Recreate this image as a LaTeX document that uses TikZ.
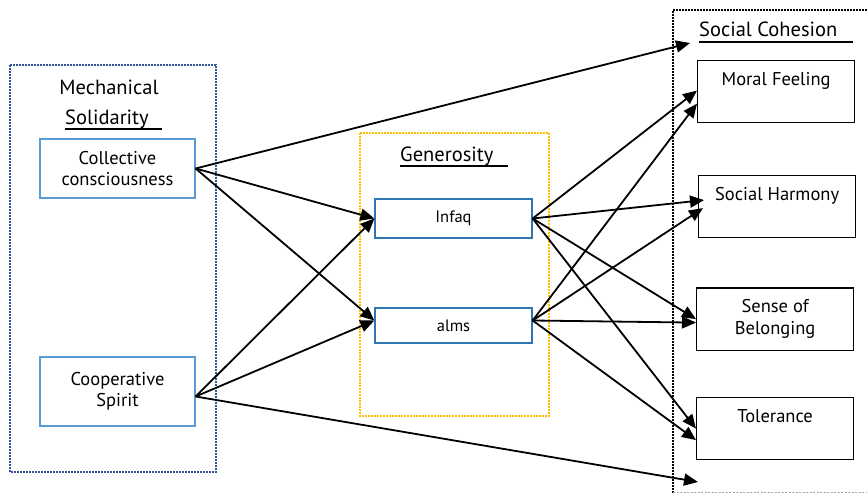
\documentclass[tikz,border=0pt]{standalone}
\usepackage{fontspec}
\setmainfont{PT Sans}
\usetikzlibrary{arrows.meta}
\definecolor{navyframe}{HTML}{2F5597}
\definecolor{goldframe}{HTML}{FFC000}
\definecolor{lightblue}{HTML}{5B9BD5}
\definecolor{midblue}{HTML}{2E75B6}
\newcommand{\headfont}{\fontsize{20.5}{24}\selectfont}
\newcommand{\bodyfont}{\fontsize{18.5}{21.5}\selectfont}
\newcommand{\smallbody}{\fontsize{16.5}{20}\selectfont}
\begin{document}
\begin{tikzpicture}[x=1pt,y=-1pt,
  frame/.style={line width=1.6pt, dash pattern=on 1.6pt off 1.4pt},
  head/.style={inner sep=0pt, font=\headfont},
  srcbox/.style={draw=lightblue, line width=1.3pt, align=center, font=\bodyfont, inner sep=0pt, minimum width=155pt},
  midbox/.style={draw=midblue, line width=1.3pt, font=\smallbody, inner sep=0pt, minimum width=157pt},
  tgtbox/.style={draw=black, line width=1.2pt, align=center, font=\bodyfont, inner xsep=0pt, minimum width=157pt},
  topbox/.style={tgtbox, inner ysep=0pt, text height=25pt, text depth=37pt},
  arr/.style={line width=1.8pt, -{Triangle[length=14pt,width=12pt]}},
  uline/.style={line width=1.4pt}
]
\useasboundingbox (0,0) rectangle (867,494);
% frames
\draw[frame, draw=navyframe] (10,65) rectangle (216,472);
\draw[frame, draw=goldframe] (360,133) rectangle (549,416);
\draw[frame, draw=black] (867,10) -- (673,10) -- (673,494);
\draw[line width=1pt, draw=gray!70, dash pattern=on 2pt off 1.5pt] (673,492) -- (867,492);

% headings
\node[head, anchor=base] (mech) at (109,95) {Mechanical};
\node[head, anchor=base west] (solid) at (65,125) {Solidarity};
\draw[uline] ([yshift=-4pt]solid.base west) -- ++(97,0);
\node[head, anchor=base west] (gen) at (400,162) {Generosity};
\draw[uline] ([yshift=-4pt]gen.base west) -- ++(108,0);
\node[head, anchor=base west] (soc) at (699,37) {Social Cohesion};
\draw[uline] ([yshift=-5pt]soc.base west) -- ++(154,0);

% source boxes
\node[srcbox, minimum height=59pt] (cc) at (117.5,168.5) {Collective\\consciousness};
\node[srcbox, minimum height=69pt] (cs) at (117.5,391.5) {Cooperative\\Spirit};

% middle boxes
\node[midbox, minimum height=39pt] (infaq) at (453.5,218.5) {Infaq};
\node[midbox, minimum height=35pt] (alms) at (453.5,325.5) {alms};

% target boxes
\node[topbox, anchor=north west] (mf) at (697,60) {Moral Feeling};
\node[topbox, anchor=north west] (sh) at (698,175) {Social Harmony};
\node[tgtbox, minimum height=62pt, anchor=north west] (sb) at (696,287.5) {Sense of\\Belonging};
\node[topbox, anchor=north west] (to) at (696,397) {Tolerance};

% free ends
\coordinate (top end) at (690,43);
\coordinate (bottom end) at (698,482);

% arrows from source boxes
\draw[arr] (cc.east) -- (top end);
\draw[arr] (cc.east) -- (infaq.west);
\draw[arr] (cc.east) -- ([yshift=5pt]alms.west);
\draw[arr] ([yshift=-5pt]cs.east) -- (infaq.west);
\draw[arr] ([yshift=-5pt]cs.east) -- ([yshift=5pt]alms.west);
\draw[arr] ([yshift=-5pt]cs.east) -- (bottom end);

% arrows from middle boxes
\draw[arr] (infaq.east) -- ([yshift=1pt]mf.west);
\draw[arr] (infaq.east) -- ([xshift=6pt,yshift=6.5pt]sh.west);
\draw[arr] (infaq.east) -- (sb.west);
\draw[arr] (infaq.east) -- (to.west);
\draw[arr] ([yshift=5pt]alms.east) -- ([yshift=-12pt]mf.west);
\draw[arr] ([yshift=5pt]alms.east) -- ([xshift=5pt,yshift=-1.5pt]sh.west);
\draw[arr] ([yshift=5pt]alms.east) -- ([yshift=-3.5pt]sb.west);
\draw[arr] ([yshift=5pt]alms.east) -- ([yshift=-11.5pt]to.west);
\end{tikzpicture}
\end{document}
